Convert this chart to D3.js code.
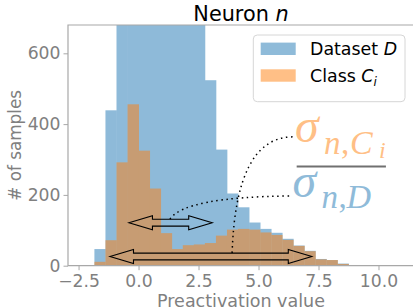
<html>
<head>
<script src="https://d3js.org/d3.v7.min.js"></script>
<style>
  body { margin: 0; background: #fff; }
</style>
</head>
<body>
<svg width="413" height="307" font-family="DejaVu Sans"></svg>
<script>
// histogram data (common bin edges)
const binStart = -2.30;
const binWidth = 0.4604;
const datasetCounts = [2, 47, 439, 820, 1180, 1350, 1240, 1010, 860, 760, 700, 524, 328, 204, 165, 122, 104, 93, 76, 57, 42, 19, 16, 6, 2, 1, 1, 1];
const classCounts   = [0, 11, 72, 292, 456, 325, 218, 92, 47, 58, 60, 64, 85, 102, 104, 102, 94, 87, 73, 56, 41, 18, 16, 5, 2, 1, 0, 0];
const xTicks = [-2.5, 0, 2.5, 5, 7.5, 10];
const yTicks = [0, 200, 400, 600];
const legendNames = ["Dataset", "Class"];
const legendSymbols = ["D", "C"];

// annotation anchors, in data units
const spreadClass = [-0.40, 3.07, 121.5];   // x1, x2, y
const spreadData  = [-1.19, 7.22, 26];
const linkDen = [[1.31, 132], [1.94, 194], [6.31, 197]];
const linkNum = [[3.90, 36], [4.06, 364], [6.44, 364]];
const numPos = [6.52, 350];
const denPos = [6.42, 194];
const fracBar = [6.59, 10.31, 280];

const blue = "#1f77b4", orange = "#ff7f0e";
const L = 68, R = 414, T = 25, B = 265.7;

const x = d3.scaleLinear().domain([-2.94, 11.48]).range([L, R]);
const y = d3.scaleLinear().domain([0, 680]).range([B, T]);

const svg = d3.select("svg");
svg.append("defs").append("clipPath").attr("id", "clip")
  .append("rect").attr("x", L).attr("y", T).attr("width", R - L).attr("height", B - T);

const plot = svg.append("g").attr("clip-path", "url(#clip)");

function hist(counts, color) {
  plot.append("g").attr("opacity", 0.5)
    .selectAll("rect").data(counts).enter().append("rect")
      .attr("x", (d, i) => x(binStart + i * binWidth))
      .attr("width", x(binWidth) - x(0) + 0.4)
      .attr("y", d => y(d))
      .attr("height", d => B - y(d))
      .attr("fill", color);
}
hist(datasetCounts, blue);
hist(classCounts, orange);

// axes
const gray = "#808080";
const xAxis = d3.axisBottom(x).tickValues(xTicks).tickFormat(d3.format(".1f")).tickSize(4.5).tickPadding(5);
const yAxis = d3.axisLeft(y).tickValues(yTicks).tickSize(4.5).tickPadding(3);

const gx = svg.append("g").attr("transform", "translate(0," + B + ")").call(xAxis);
const gy = svg.append("g").attr("transform", "translate(" + L + ",0)").call(yAxis);
[gx, gy].forEach(g => {
  g.select(".domain").remove();
  g.selectAll("line").attr("stroke", "#a8a8a8");
  g.attr("font-family", "DejaVu Sans").attr("font-size", 17.2);
  g.selectAll("text").attr("fill", gray);
});

// spines (left, top, bottom)
svg.append("path")
  .attr("d", `M${R},${T}H${L}V${B}H${R}`)
  .attr("fill", "none").attr("stroke", "#a8a8a8").attr("stroke-width", 1.2);

// labels
svg.append("text").attr("x", (L + R) / 2).attr("y", 307)
  .attr("text-anchor", "middle").attr("font-size", 17.5).attr("fill", gray)
  .text("Preactivation value");
svg.append("text").attr("transform", "translate(21," + (T + B) / 2 + ") rotate(-90)")
  .attr("text-anchor", "middle").attr("font-size", 16.8).attr("fill", gray)
  .text("# of samples");
const title = svg.append("text").attr("x", (L + R) / 2).attr("y", 20.5)
  .attr("text-anchor", "middle").attr("font-size", 20.8).attr("fill", "#000");
title.append("tspan").text("Neuron ");
title.append("tspan").attr("font-style", "italic").text("n");

// legend
const lg = svg.append("g");
lg.append("rect").attr("x", 253.3).attr("y", 35).attr("width", 151.7).attr("height", 66.7)
  .attr("rx", 4).attr("fill", "#fff").attr("fill-opacity", 0.8)
  .attr("stroke", "#d6d6d6").attr("stroke-width", 1);
[blue, orange].forEach((c, i) => {
  const cy = 48.8 + i * 26.7;
  lg.append("rect").attr("x", 260.7).attr("y", cy - 6.2).attr("width", 35).attr("height", 12.4)
    .attr("fill", c).attr("opacity", 0.5);
  const t = lg.append("text").attr("x", 310).attr("y", cy + 6.3).attr("font-size", 17.4).attr("fill", "#000");
  t.append("tspan").text(legendNames[i] + " ");
  t.append("tspan").attr("font-style", "italic").text(legendSymbols[i]);
  if (i === 1) t.append("tspan").attr("font-style", "italic").attr("font-size", 12).attr("dy", 4).text("i");
});

// double arrows
function darrow(a) {
  const x1 = x(a[0]), x2 = x(a[1]), yc = y(a[2]);
  const hl = 23.5, hw = 7, sw = 3.4;
  const pts = [[x1, yc], [x1 + hl, yc - hw], [x1 + hl, yc - sw], [x2 - hl, yc - sw], [x2 - hl, yc - hw],
               [x2, yc], [x2 - hl, yc + hw], [x2 - hl, yc + sw], [x1 + hl, yc + sw], [x1 + hl, yc + hw]];
  svg.append("path").attr("d", "M" + pts.map(p => p.join(",")).join("L") + "Z")
    .attr("fill", "none").attr("stroke", "#000").attr("stroke-width", 1.1).attr("stroke-linejoin", "miter");
}
darrow(spreadClass);
darrow(spreadData);

// dotted links
function link(p) {
  const q = p.map(d => [x(d[0]), y(d[1])]);
  svg.append("path").attr("d", `M${q[0]}Q${q[1]} ${q[2]}`)
    .attr("fill", "none").attr("stroke", "#000").attr("stroke-width", 1.5)
    .attr("stroke-dasharray", "1.5,3.6");
}
link(linkDen);
link(linkNum);

// ratio sigma_{n,C_i} / sigma_{n,D}
const serif = "Liberation Serif";
function frac(pos, color, parts) {
  const x0 = x(pos[0]), y0 = y(pos[1]);
  const t = svg.append("text").attr("fill", color).attr("font-family", serif);
  parts.forEach(p => {
    t.append("tspan").attr("x", x0 + p.dx).attr("y", y0 + p.dy)
      .attr("font-size", p.size).attr("font-style", p.italic ? "italic" : "normal").text(p.s);
  });
}
frac(numPos, "#ffbf86", [
  {s: "σ", dx: 0, dy: 0, size: 48, italic: true},
  {s: "n", dx: 29, dy: 12, size: 33, italic: true},
  {s: ",", dx: 46, dy: 12, size: 33, italic: false},
  {s: "C", dx: 55, dy: 12, size: 34, italic: true},
  {s: "i", dx: 84, dy: 16, size: 24, italic: true}
]);
frac(denPos, "#8fbbd9", [
  {s: "σ", dx: 0, dy: 0, size: 48, italic: true},
  {s: "n", dx: 29, dy: 11, size: 33, italic: true},
  {s: ",", dx: 46, dy: 11, size: 33, italic: false},
  {s: "D", dx: 54, dy: 11, size: 34, italic: true}
]);
svg.append("line")
  .attr("x1", x(fracBar[0])).attr("x2", x(fracBar[1]))
  .attr("y1", y(fracBar[2])).attr("y2", y(fracBar[2]))
  .attr("stroke", "#707070").attr("stroke-width", 2);
</script>
</body>
</html>
